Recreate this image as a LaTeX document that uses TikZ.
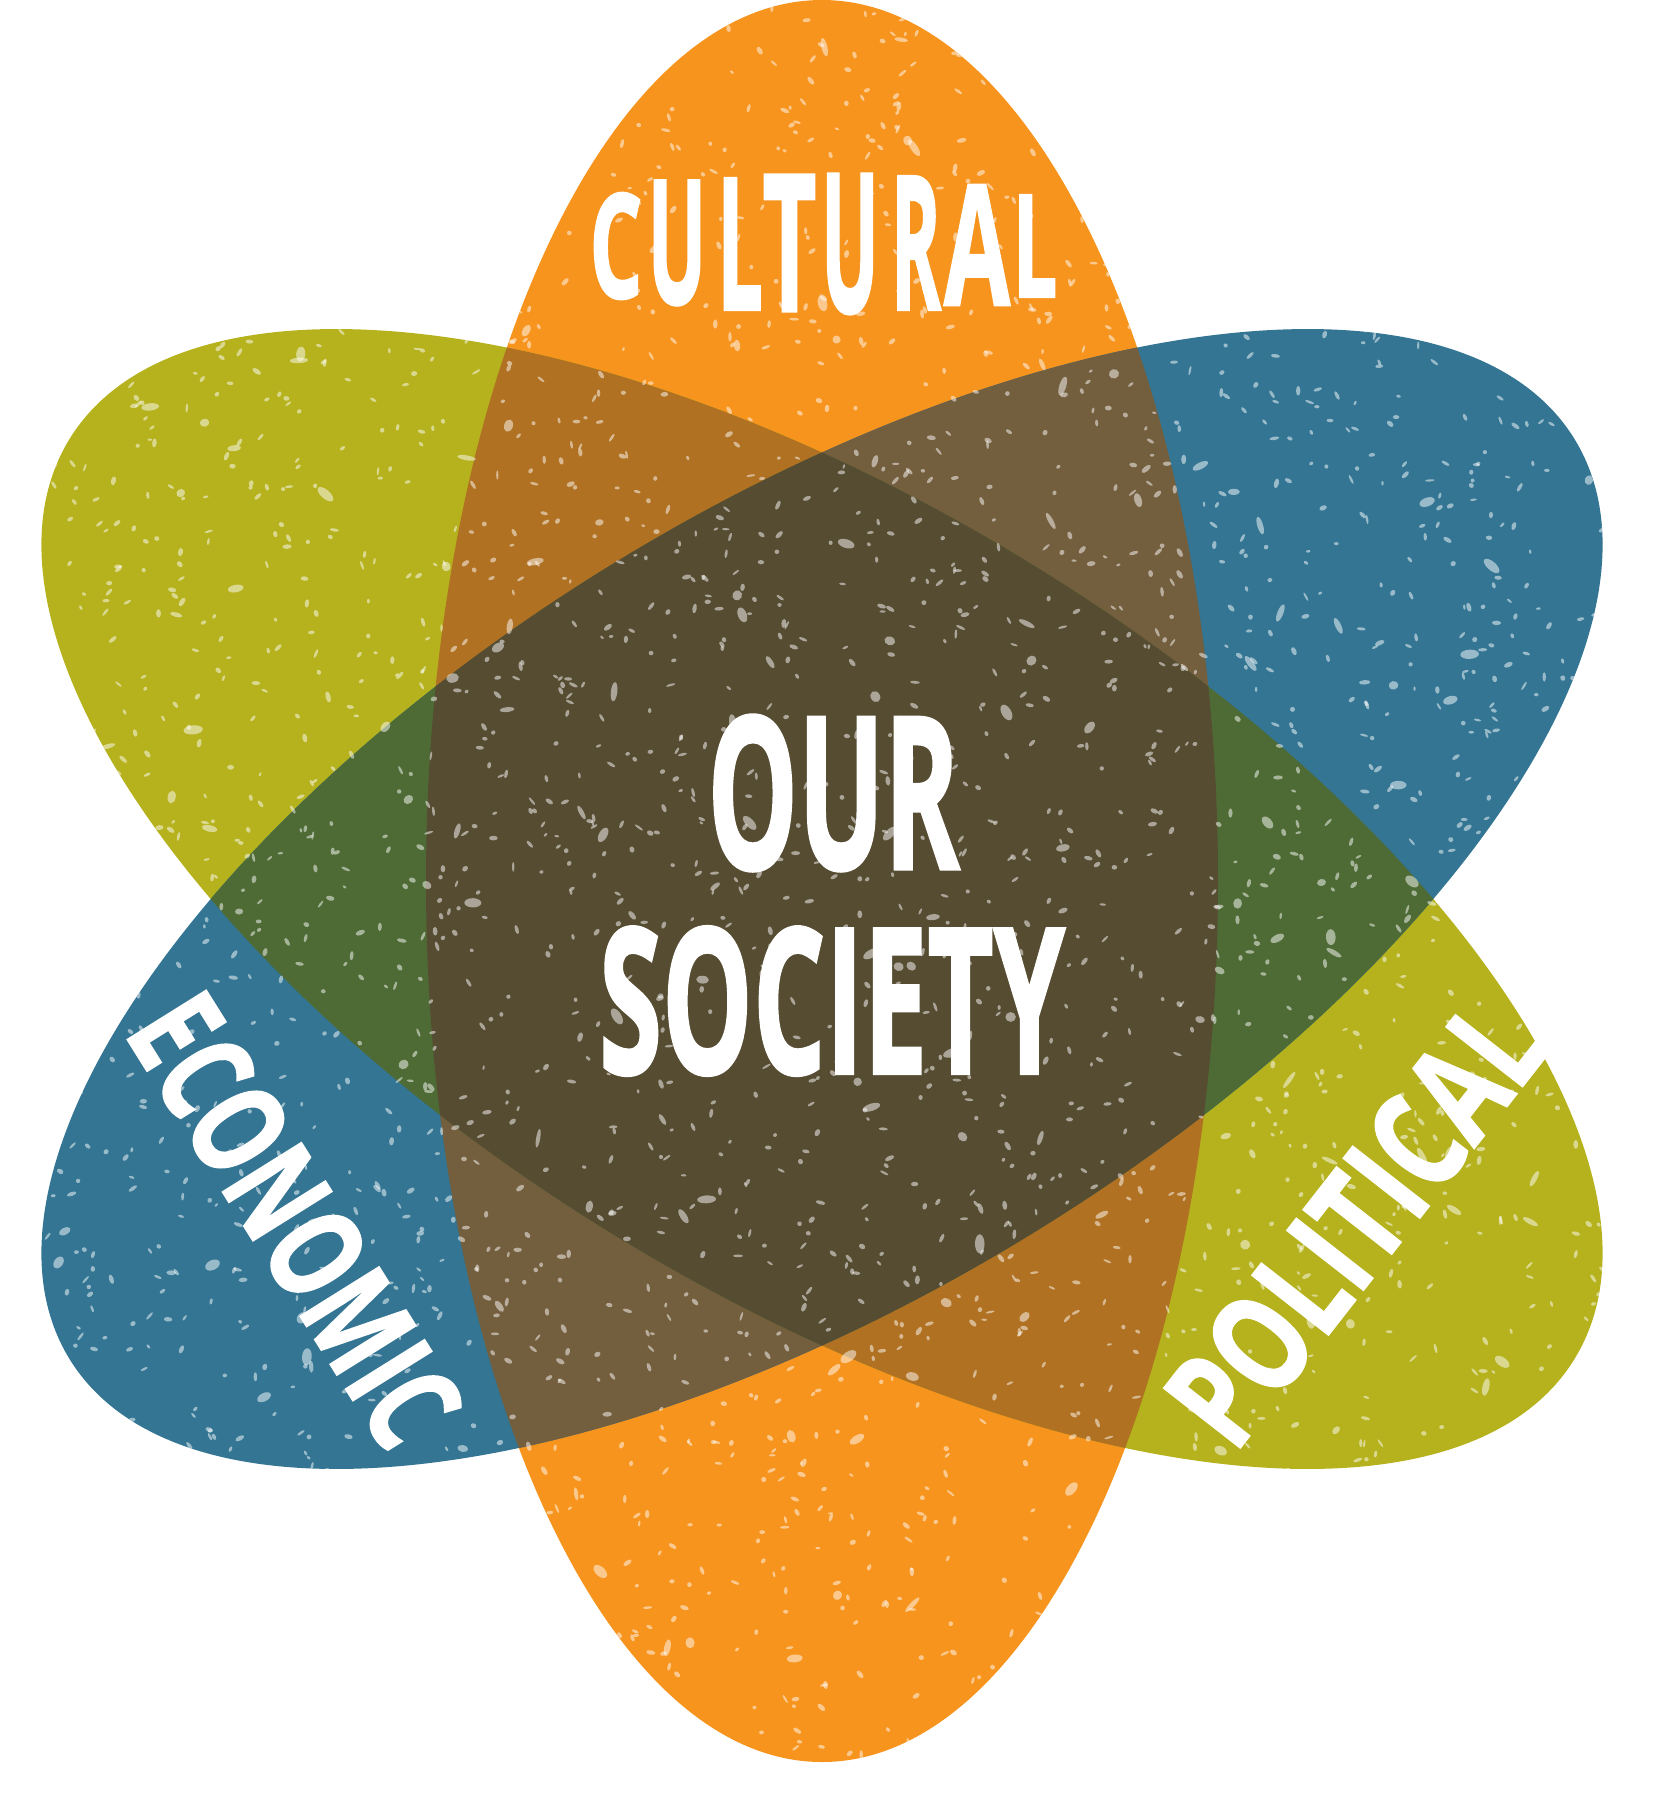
\documentclass[tikz,border=0pt]{standalone}
\usepackage{fontspec}
\usepackage{graphicx}
\newfontfamily\labfont{Open Sans}[BoldFeatures={FakeBold=1.6}]
\definecolor{cOr}{RGB}{247,148,30}
\definecolor{cGr}{RGB}{181,178,29}
\definecolor{cBl}{RGB}{51,117,147}
\definecolor{cOG}{RGB}{176,113,34}
\definecolor{cOB}{RGB}{115,94,61}
\definecolor{cGB}{RGB}{78,107,53}
\definecolor{cOGB}{RGB}{85,76,49}
\def\EO{(822,881) ellipse [x radius=396, y radius=881]}
\def\EG{(822,899) ellipse [x radius=395, y radius=882, rotate=58.6]}
\def\EB{(822,899) ellipse [x radius=395, y radius=882, rotate=-58.6]}
\newcommand\fitword[3]{\resizebox{#1pt}{#2pt}{\labfont\bfseries #3}}
\tikzset{
  lab/.style={text=white, inner sep=0pt, outer sep=0pt},
  speck/.style={fill=white, fill opacity=0.5},
}
\begin{document}
\begin{tikzpicture}[x=1pt,y=-1pt]
\useasboundingbox (0,0) rectangle (1656,1800);
% base shapes
\fill[cOr] \EO;
\fill[cGr] \EG;
\fill[cBl] \EB;
% overlaps
\begin{scope}\clip \EO; \fill[cOG] \EG; \end{scope}
\begin{scope}\clip \EO; \fill[cOB] \EB; \end{scope}
\begin{scope}\clip \EG; \fill[cGB] \EB; \end{scope}
\begin{scope}\clip \EO; \clip \EG; \fill[cOGB] \EB; \end{scope}
% speckle texture
\begin{scope}
\clip \EO \EG \EB;
\pgfmathsetseed{7}
\foreach \i in {1,...,3000}{
  \pgfmathsetmacro\px{35+rnd*1580}
  \pgfmathsetmacro\py{rnd*1765}
  \pgfmathsetmacro\ra{2+rnd*3}
  \pgfmathsetmacro\rb{1.1+rnd*1.4}
  \pgfmathsetmacro\ang{rnd*180}
  \fill[speck] (\px,\py) ellipse [x radius=\ra, y radius=\rb, rotate=\ang];
}
\foreach \i in {1,...,220}{
  \pgfmathsetmacro\px{35+rnd*1580}
  \pgfmathsetmacro\py{rnd*1765}
  \pgfmathsetmacro\ra{4+rnd*6}
  \pgfmathsetmacro\rb{2+rnd*3}
  \pgfmathsetmacro\ang{rnd*180}
  \fill[speck] (\px,\py) ellipse [x radius=\ra, y radius=\rb, rotate=\ang];
}
\end{scope}
% CULTURAL (bulged letters)
\node[lab] (c1) at (616,246) {\fitword{53}{105}{C}};
\node[lab] (c2) at (677,243) {\fitword{59}{123}{U}};
\node[lab] (c3) at (740,244) {\fitword{46}{131}{L}};
\node[lab] (c4) at (789.5,243) {\fitword{54}{136}{T}};
\node[lab] (c5) at (850,244) {\fitword{58}{138}{U}};
\node[lab] (c6) at (916,243) {\fitword{50}{133}{R}};
\node[lab] (c7) at (977,245) {\fitword{66}{120}{A}};
\node[lab] (c8) at (1035,246) {\fitword{45}{102}{L}};
% center
\node[lab] (our) at (833.5,793) {\fitword{252}{154}{OUR}};
\node[lab] (soc) at (832,1001) {\fitword{466}{147}{SOCIETY}};
% side labels
\node[lab, rotate=-58] (eco) at (295,1220) {\fitword{500}{94}{ECONOMIC}};
\node[lab, rotate=52] (pol) at (1355,1222) {\fitword{515}{98}{POLITICAL}};
\end{tikzpicture}
\end{document}
